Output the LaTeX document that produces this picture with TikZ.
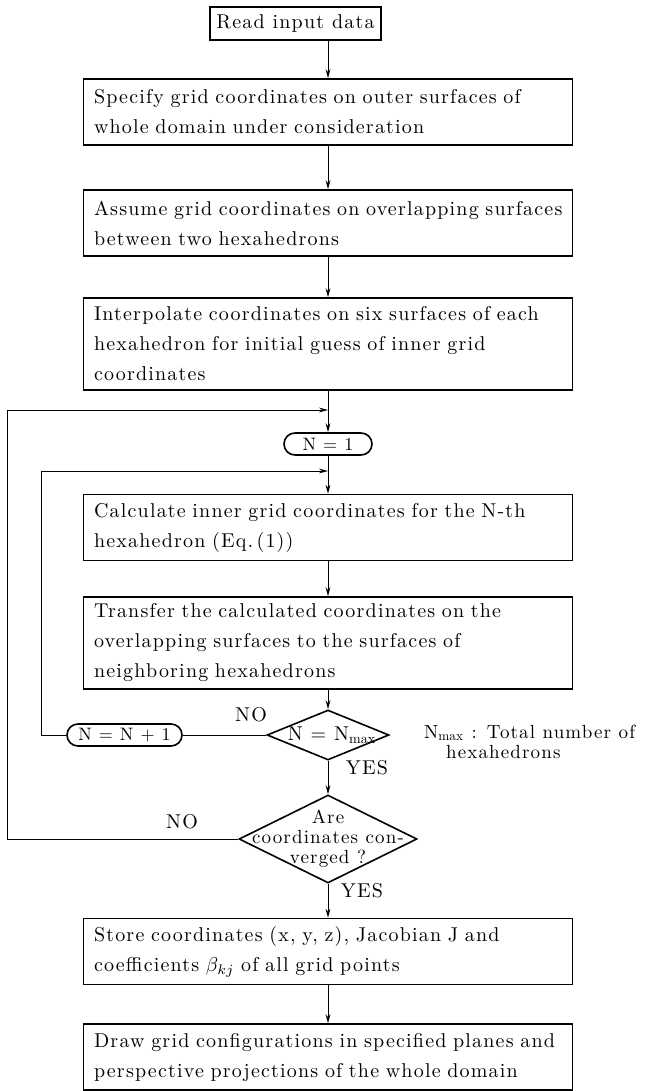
\documentclass[tikz,border=0pt]{standalone}
\usepackage{fontspec}
\setmainfont{lmroman10-regular.otf}[LetterSpace=6]
\usetikzlibrary{shapes.geometric,arrows.meta}

\tikzset{
  flowtext/.style={font=\fontsize{10}{15}\selectfont},
  procbox/.style={draw, line width=0.8pt, flowtext, text width=234pt, inner xsep=5.25pt,
    minimum height=#1, align=left},
  procbox/.default=33pt,
  startbox/.style={draw, line width=0.8pt, flowtext, minimum width=84.5pt, minimum height=16.5pt},
  termbox/.style={draw, line width=0.8pt, font=\fontsize{9}{10}\selectfont, rounded corners=5.5pt,
    inner sep=1pt, minimum width=#1, minimum height=11pt},
  decision/.style={draw, line width=0.8pt, diamond, inner sep=0pt, minimum width=#1},
  flowline/.style={line width=0.5pt},
  arrowline/.style={flowline, -{Stealth[length=4.5pt,width=2.4pt]}},
  tag/.style={flowtext}
}

\begin{document}
\begin{tikzpicture}[x=0.5pt,y=-0.5pt]
  \useasboundingbox (0,0) rectangle (653,1091);

  % main column
  \node[startbox] (read) at (295.5,23.5) {Read input data};
  \node[procbox] (specify) at (328,112) {Specify grid coordinates on outer surfaces of\\whole domain under consideration};
  \node[procbox] (assume) at (328,223) {Assume grid coordinates on overlapping surfaces\\between two hexahedrons};
  \node[procbox=46pt] (interp) at (328,344) {Interpolate coordinates on six surfaces of each\\hexahedron for initial guess of inner grid\\coordinates};
  \node[termbox=44pt] (n1) at (328,444) {N = 1};
  \node[procbox] (calc) at (328,527.5) {Calculate inner grid coordinates for the N-th\\hexahedron (Eq.\,(1))};
  \node[procbox=46pt] (transfer) at (328,643) {Transfer the calculated coordinates on the\\overlapping surfaces to the surfaces of\\neighboring hexahedrons};
  \node[decision=61pt, minimum height=25pt] (nmax) at (328,735) {};
  \node[flowtext] (nmaxtext) at ([xshift=2pt]nmax.center) {N = N$_{\mathrm{max}}$};
  \node[termbox=57.5pt] (nn1) at (124.5,735) {N = N + 1};
  \node[decision=89pt, minimum height=44pt] (conv) at (328,839) {};
  \node[flowtext, font=\fontsize{9.5}{10}\selectfont, align=center] (convtext) at (conv.center) {Are\\coordinates con-\\verged ?};
  \node[procbox] (store) at (328,951.5) {Store coordinates (x, y, z), Jacobian J and\\coefficients $\beta_{kj}$ of all grid points};
  \node[procbox] (draw) at (328,1057) {Draw grid configurations in specified planes and\\perspective projections of the whole domain};

  % side note
  \node[tag, anchor=west, align=left, font=\fontsize{9.5}{10}\selectfont] (note) at (417,742)
    {N$_{\mathrm{max}}$ : Total number of\\\hspace*{11pt}hexahedrons};

  % loop corners
  \coordinate (outerjoin) at (328,410);
  \coordinate (innerjoin) at (328,471);
  \coordinate (outerleft) at (7,839);
  \coordinate (innerleft) at (41,735);

  % connectors
  \draw[arrowline] (read.south -| specify.north) -- (specify.north);
  \draw[arrowline] (specify) -- (assume);
  \draw[arrowline] (assume) -- (interp);
  \draw[arrowline] (interp) -- (n1);
  \draw[arrowline] (n1) -- (calc);
  \draw[arrowline] (calc) -- (transfer);
  \draw[arrowline] (transfer) -- (nmax);
  \draw[arrowline] (nmax) -- (conv);
  \draw[arrowline] (conv) -- (store);
  \draw[arrowline] (store) -- (draw);
  \draw[flowline] (nmax.west) -- (nn1.east);
  \draw[arrowline] (nn1.west) -- (innerleft) |- (innerjoin);
  \draw[arrowline] (conv.west) -- (outerleft) |- (outerjoin);

  % branch labels
  \node[tag] (no1) at (251,715) {NO};
  \node[tag] (yes1) at (367,768) {YES};
  \node[tag] (no2) at (182,822) {NO};
  \node[tag] (yes2) at (362,891) {YES};
\end{tikzpicture}
\end{document}
